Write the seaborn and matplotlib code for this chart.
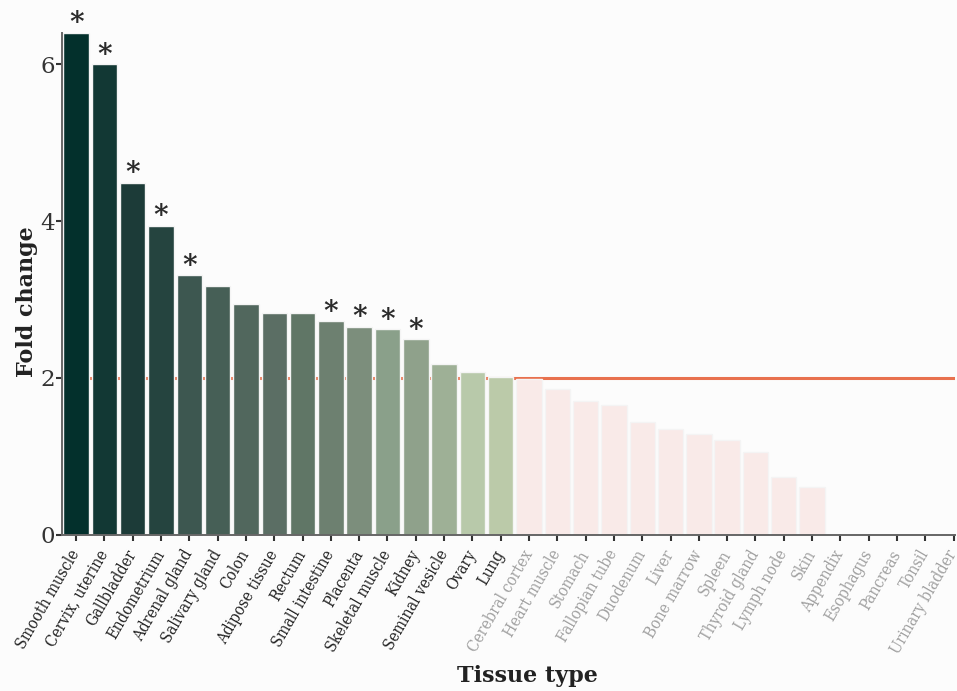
import matplotlib
matplotlib.use("Agg")
import matplotlib.pyplot as plt
import seaborn as sns

# ------------------------------
# Data
# ------------------------------

tissues = [
    "Smooth muscle", "Cervix, uterine", "Gallbladder", "Endometrium",
    "Adrenal gland", "Salivary gland", "Colon", "Adipose tissue", "Rectum",
    "Small intestine", "Placenta", "Skeletal muscle", "Kidney",
    "Seminal vesicle", "Ovary", "Lung", "Cerebral cortex", "Heart muscle",
    "Stomach", "Fallopian tube", "Duodenum", "Liver", "Bone marrow",
    "Spleen", "Thyroid gland", "Lymph node", "Skin", "Appendix",
    "Esophagus", "Pancreas", "Tonsil", "Urinary bladder",
]

fold_change = [
    6.40, 6.00, 4.49, 3.94, 3.31, 3.17, 2.94, 2.83, 2.83, 2.72, 2.65, 2.62,
    2.49, 2.17, 2.07, 2.01, 1.98, 1.86, 1.71, 1.65, 1.43, 1.34, 1.28, 1.21,
    1.05, 0.74, 0.61, 0.0, 0.0, 0.0, 0.0, 0.0,
]

significant = [
    "Smooth muscle", "Cervix, uterine", "Gallbladder", "Endometrium",
    "Adrenal gland", "Small intestine", "Placenta", "Skeletal muscle", "Kidney",
]

threshold = 2

# bar colours: green ramp for the enriched tissues, pale pink for the rest
green_ramp = [
    "#03302c", "#123834", "#1c3b38", "#25443f", "#3d5750", "#465f56",
    "#51675d", "#5b6e64", "#607666", "#6d8070", "#7c8e7c", "#8aa08a",
    "#8fa18b", "#9eb096", "#b8c9aa", "#bbcaa9",
]
n_green = len(green_ramp)
colors = green_ramp + ["#f9eae8"] * (len(tissues) - n_green)

# ------------------------------
# Plot
# ------------------------------

sns.set_style("white")
plt.rcParams["font.family"] = ["DejaVu Serif"]

fig = plt.figure(figsize=(9.57, 6.91), dpi=100, facecolor="#fcfcfc")
ax = fig.add_axes([62 / 957, 156.5 / 691, 893 / 957, 501.5 / 691])
ax.set_facecolor("#fcfcfc")

ax.axhline(threshold, color="#e8714e", lw=2.2, zorder=0)

sns.barplot(
    x=tissues,
    y=fold_change,
    hue=tissues,
    palette=colors,
    legend=False,
    width=0.9,
    edgecolor="#f4f4f4",
    linewidth=1,
    saturation=1,
    ax=ax,
)

# asterisks for significant tissues
for i, (t, v) in enumerate(zip(tissues, fold_change)):
    if t in significant:
        ax.text(i, v + 0.02, "*", ha="center", va="baseline",
                fontsize=20, fontweight="bold", color="#2a2a2a")

ax.set_xlim(-0.5, 31.05)
ax.set_ylim(0, 6.4)
ax.set_yticks([0, 2, 4, 6])

sns.despine(ax=ax)
for side in ["left", "bottom"]:
    ax.spines[side].set_color("#666666")
    ax.spines[side].set_linewidth(1.4)

ax.tick_params(axis="both", direction="out", length=4, width=1.5,
               color="#333333", bottom=True, left=True)
ax.tick_params(axis="y", labelsize=16.5, pad=1, labelcolor="#333333")
ax.tick_params(axis="x", pad=8)
ax.set_xticks(range(len(tissues)))
ax.set_xticklabels(tissues, rotation=60, ha="right", va="center",
                   rotation_mode="anchor", fontsize=11.5,
                   fontstretch="condensed")
for i, lab in enumerate(ax.get_xticklabels()):
    lab.set_color("#222222" if i < n_green else "#a0a0a0")

ax.set_xlabel("")
ax.set_ylabel("")
fig.text(27 / 957, 1 - 302 / 691, "Fold change", rotation=90,
         ha="center", va="center", fontsize=16, fontweight="bold",
         color="#222222")
fig.text(527 / 957, 1 - 676 / 691, "Tissue type",
         ha="center", va="center", fontsize=16, fontweight="bold",
         color="#222222")

fig.savefig("out.png", dpi=100, facecolor=fig.get_facecolor())
